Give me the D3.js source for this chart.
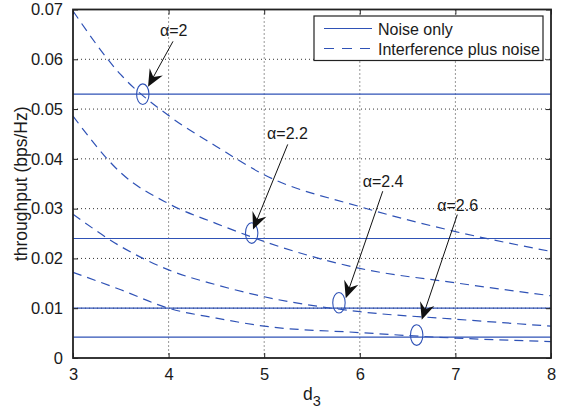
<!DOCTYPE html>
<html>
<head>
<meta charset="utf-8">
<script src="https://cdn.jsdelivr.net/npm/d3@7"></script>
<style>
  body { margin: 0; background: #fff; }
  svg text { font-family: "Liberation Sans", Arial, Helvetica, sans-serif; fill: #1a1a1a; }
</style>
</head>
<body>
<div class="chart-container"></div>
<script>
// data
const dValues = [3, 3.5, 4, 4.5, 5, 6, 7, 8];
const alpha20 = [0.0697, 0.0569, 0.0487, 0.0425, 0.0368, 0.0304, 0.0254, 0.0214];
const alpha22 = [0.0486, 0.0372, 0.0310, 0.0270, 0.0234, 0.0180, 0.0151, 0.0125];
const alpha24 = [0.0289, 0.0224, 0.0177, 0.0147, 0.0123, 0.0093, 0.0078, 0.0064];
const alpha26 = [0.0172, 0.0137, 0.0100, 0.0080, 0.0064, 0.0051, 0.0040, 0.0033];
const noiseOnly = [0.0530, 0.0240, 0.0100, 0.0042];

const xTicks = [3, 4, 5, 6, 7, 8];
const xTickLabels = ['3', '4', '5', '6', '7', '8'];
const yTicks = [0, 0.01, 0.02, 0.03, 0.04, 0.05, 0.06, 0.07];
const yTickLabels = ['0', '0.01', '0.02', '0.03', '0.04', '0.05', '0.06', '0.07'];

// annotations (data coordinates)
const annoLabels = ['\u03b1=2', '\u03b1=2.2', '\u03b1=2.4', '\u03b1=2.6'];
const annoTextPos = [[3.91, 0.0646], [5.03, 0.0439], [6.03, 0.0344], [6.81, 0.0296]];
const arrowFrom = [[4.046, 0.0636], [5.246, 0.0429], [6.24, 0.0335], [7.02, 0.0288]];
const arrowTo = [[3.785, 0.0545], [4.883, 0.0258], [5.853, 0.0120], [6.648, 0.0077]];
const circleAt = [[3.73, 0.0530], [4.869, 0.0251], [5.782, 0.0111], [6.595, 0.0046]];

const legendLabels = ['Noise only', 'Interference plus noise'];

const curves = [alpha20, alpha22, alpha24, alpha26];

const svg_width = 562;
const svg_height = 408;
const margin = {top: 9.5, right: 11, bottom: 50, left: 73};
const chart_width = svg_width - margin.left - margin.right;
const chart_height = svg_height - margin.top - margin.bottom;
const lineColor = '#2f52b6';

const svg = d3.select('.chart-container').append('svg')
  .attr('width', svg_width).attr('height', svg_height);
const g = svg.append('g').attr('transform', `translate(${margin.left},${margin.top})`);

const xScale = d3.scaleLinear().domain([3, 8]).range([0, chart_width]);
const yScale = d3.scaleLinear().domain([0, 0.07]).range([chart_height, 0]);

// grid
g.append('g').selectAll('line').data(xTicks.slice(1, -1)).enter().append('line')
  .attr('x1', d => xScale(d)).attr('x2', d => xScale(d))
  .attr('y1', 0).attr('y2', chart_height)
  .attr('stroke', '#333').attr('stroke-width', 1).attr('stroke-dasharray', '1,3');
g.append('g').selectAll('line').data(yTicks.slice(1, -1)).enter().append('line')
  .attr('x1', 0).attr('x2', chart_width)
  .attr('y1', d => yScale(d)).attr('y2', d => yScale(d))
  .attr('stroke', '#333').attr('stroke-width', 1).attr('stroke-dasharray', '1,3');

// noise only lines
g.append('g').selectAll('line').data(noiseOnly).enter().append('line')
  .attr('x1', 0).attr('x2', chart_width)
  .attr('y1', d => yScale(d)).attr('y2', d => yScale(d))
  .attr('stroke', lineColor).attr('stroke-width', 1.2);

// interference plus noise curves
const line = d3.line()
  .x((d, i) => xScale(dValues[i]))
  .y(d => yScale(d))
  .curve(d3.curveMonotoneX);
g.append('g').selectAll('path').data(curves).enter().append('path')
  .attr('d', d => line(d))
  .attr('fill', 'none')
  .attr('stroke', lineColor).attr('stroke-width', 1.2)
  .attr('stroke-dasharray', '9,6');

// axes (ticks inward, box)
const xAxisB = d3.axisBottom(xScale).tickValues(xTicks).tickSizeInner(-5).tickSizeOuter(0).tickPadding(10)
  .tickFormat((d, i) => xTickLabels[i]);
const xAxisT = d3.axisTop(xScale).tickValues(xTicks).tickSizeInner(-5).tickSizeOuter(0).tickFormat('');
const yAxisL = d3.axisLeft(yScale).tickValues(yTicks).tickSizeInner(-5).tickSizeOuter(0).tickPadding(10)
  .tickFormat((d, i) => yTickLabels[i]);
const yAxisR = d3.axisRight(yScale).tickValues(yTicks).tickSizeInner(-5).tickSizeOuter(0).tickFormat('');

g.append('g').attr('class', 'x axis').attr('transform', `translate(0,${chart_height})`).call(xAxisB);
g.append('g').attr('class', 'x axis').call(xAxisT);
g.append('g').attr('class', 'y axis').call(yAxisL);
g.append('g').attr('class', 'y axis').attr('transform', `translate(${chart_width},0)`).call(yAxisR);
g.selectAll('.axis .domain').remove();
g.selectAll('.axis .tick line').attr('stroke', '#222').attr('stroke-width', 1);
g.selectAll('.axis text').style('font-size', '16.5px').attr('fill', '#1a1a1a');

g.append('rect')
  .attr('x', 0).attr('y', 0).attr('width', chart_width).attr('height', chart_height)
  .attr('fill', 'none').attr('stroke', '#222').attr('stroke-width', 1.8);

// circles
g.append('g').selectAll('ellipse').data(circleAt).enter().append('ellipse')
  .attr('cx', d => xScale(d[0])).attr('cy', d => yScale(d[1]))
  .attr('rx', 6.2).attr('ry', 10.3)
  .attr('fill', 'none').attr('stroke', lineColor).attr('stroke-width', 1.1);

// arrows
arrowFrom.forEach((from, i) => {
  const x0 = xScale(from[0]), y0 = yScale(from[1]);
  const x1 = xScale(arrowTo[i][0]), y1 = yScale(arrowTo[i][1]);
  const len = Math.hypot(x1 - x0, y1 - y0);
  const ux = (x1 - x0) / len, uy = (y1 - y0) / len;
  const nx = -uy, ny = ux;
  const L = 17, W = 7.5;
  g.append('line')
    .attr('x1', x0).attr('y1', y0)
    .attr('x2', x1 - ux * L * 0.5).attr('y2', y1 - uy * L * 0.5)
    .attr('stroke', '#111').attr('stroke-width', 1);
  const head = [
    [x1, y1],
    [x1 - ux * L + nx * W, y1 - uy * L + ny * W],
    [x1 - ux * L * 0.65, y1 - uy * L * 0.65],
    [x1 - ux * L - nx * W, y1 - uy * L - ny * W]
  ];
  g.append('path').attr('d', 'M' + head.join('L') + 'Z').attr('fill', '#111');
});

// annotation labels
g.append('g').selectAll('text').data(annoLabels).enter().append('text')
  .attr('x', (d, i) => xScale(annoTextPos[i][0]))
  .attr('y', (d, i) => yScale(annoTextPos[i][1]))
  .style('font-size', '16px')
  .text(d => d);

// legend
const legend = g.append('g').attr('transform', `translate(${314 - margin.left},${16 - margin.top})`);
legend.append('rect').attr('x', 0).attr('y', 0).attr('width', 229).attr('height', 44.5)
  .attr('fill', '#fff').attr('stroke', '#222').attr('stroke-width', 1.2);
legendLabels.forEach((lab, i) => {
  legend.append('line')
    .attr('x1', 10).attr('x2', 58).attr('y1', 12.5 + i * 20).attr('y2', 12.5 + i * 20)
    .attr('stroke', lineColor).attr('stroke-width', 1.2)
    .attr('stroke-dasharray', i === 1 ? '10,8' : null);
  legend.append('text').attr('x', 64).attr('y', 19 + i * 20)
    .style('font-size', '16px').text(lab);
});

// axis labels
svg.append('text')
  .attr('transform', `translate(27,${margin.top + chart_height / 2}) rotate(-90)`)
  .attr('text-anchor', 'middle')
  .style('font-size', '17.5px')
  .text('throughput (bps/Hz)');

const xLabel = svg.append('text')
  .attr('x', margin.left + chart_width / 2).attr('y', 400)
  .attr('text-anchor', 'middle')
  .style('font-size', '17.5px');
xLabel.append('tspan').text('d');
xLabel.append('tspan').attr('dy', 6).style('font-size', '14.5px').text('3');
</script>
</body>
</html>
